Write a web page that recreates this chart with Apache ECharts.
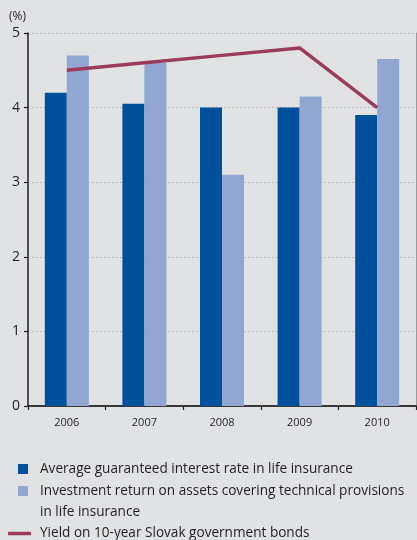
<!DOCTYPE html>
<html>
<head>
<meta charset="utf-8">
<script src="https://cdn.jsdelivr.net/npm/echarts@6/dist/echarts.min.js"></script>
<style>
html,body{margin:0;padding:0;background:#e1e2e4;}
#c{width:417px;height:540px;}
</style>
</head>
<body>
<div id="c"></div>
<script>
const categories = ['2006', '2007', '2008', '2009', '2010'];
const guaranteedRate = [4.2, 4.05, 4.0, 4.0, 3.9];
const investmentReturn = [4.7, 4.6, 3.1, 4.15, 4.65];
const bondYield = [4.5, 4.6, 4.7, 4.8, 4.0];
const yTicks = [0, 1, 2, 3, 4, 5];

const nameA = 'Average guaranteed interest rate in life insurance';
const nameB = 'Investment return on assets covering technical provisions in life insurance';
const nameC = 'Yield on 10-year Slovak government bonds';

const FONT = '"Open Sans", "Liberation Sans", Arial, sans-serif';
const TXT = '#231f20';
const LEG_FS = 13.6;

const chart = echarts.init(document.getElementById('c'), null, {renderer: 'canvas'});
chart.setOption({
  backgroundColor: '#e1e2e4',
  animation: false,
  textStyle: {fontFamily: FONT},
  title: {
    text: '(%)', left: 9, top: 11, padding: 0,
    textStyle: {fontSize: 12, fontWeight: 'normal', color: TXT, fontFamily: FONT}
  },
  grid: {left: 28, right: 1, top: 33, bottom: 134, containLabel: false},
  legend: [
    {
      left: 18, top: 458.5, padding: 0, itemWidth: 10, itemHeight: 10, icon: 'rect',
      selectedMode: false,
      data: [{name: nameA}],
      textStyle: {fontSize: LEG_FS, color: TXT, lineHeight: 21, padding: [0, 0, 0, 7], fontFamily: FONT}
    },
    {
      left: 18, top: 480.5, padding: 0, itemWidth: 10, itemHeight: 31,
      icon: 'path://M0,0H10V10H0Z M0,31H10V31Z',
      selectedMode: false,
      data: [{name: nameB}],
      formatter: function () {
        return 'Investment return on assets covering technical provisions\nin life insurance';
      },
      textStyle: {fontSize: LEG_FS, color: TXT, lineHeight: 21, padding: [0, 0, 0, 7], fontFamily: FONT}
    },
    {
      left: 8, top: 523, padding: 0, itemWidth: 23, itemHeight: 3.5, icon: 'roundRect',
      selectedMode: false,
      data: [{name: nameC}],
      textStyle: {fontSize: LEG_FS, color: TXT, lineHeight: 21, padding: [0, 0, 0, 4], fontFamily: FONT}
    }
  ],
  xAxis: [
    {
      type: 'category', data: categories, boundaryGap: true,
      axisLine: {show: true, lineStyle: {color: '#231f20', width: 1.5}},
      axisTick: {show: true, length: 4, alignWithLabel: false, lineStyle: {color: '#231f20', width: 1.2}},
      axisLabel: {fontSize: 11, color: TXT, margin: 11, fontFamily: FONT},
      splitLine: {show: false}
    },
    {
      type: 'category', data: categories, position: 'top',
      axisLine: {show: true, lineStyle: {color: '#333', width: 1.5}},
      axisTick: {show: false}, axisLabel: {show: false}, splitLine: {show: false}
    }
  ],
  yAxis: [
    {
      type: 'value', min: yTicks[0], max: yTicks[yTicks.length - 1], interval: 1,
      axisLine: {show: true, lineStyle: {color: '#231f20', width: 1.5}},
      axisTick: {show: true, length: 4, lineStyle: {color: '#231f20', width: 1.2}},
      axisLabel: {fontSize: 14, color: TXT, margin: 8, fontFamily: FONT},
      splitLine: {show: true, lineStyle: {color: '#adadad', width: 1, type: [1.5, 2.5]}}
    },
    {
      type: 'value', min: yTicks[0], max: yTicks[yTicks.length - 1], interval: 1, position: 'right',
      axisLine: {show: true, lineStyle: {color: '#9a9a9a', width: 1}},
      axisTick: {show: false}, axisLabel: {show: false}, splitLine: {show: false}
    }
  ],
  series: [
    {
      name: nameA, type: 'bar', data: guaranteedRate, barWidth: 22, barGap: '0%',
      itemStyle: {color: '#00509b'}
    },
    {
      name: nameB, type: 'bar', data: investmentReturn, barWidth: 22, barGap: '0%',
      itemStyle: {color: '#91a6d0'}
    },
    {
      name: nameC, type: 'line', data: bondYield, symbol: 'none', z: 5,
      lineStyle: {color: '#9b3d58', width: 3.5},
      itemStyle: {color: '#9b3d58'}
    }
  ]
});
</script>
</body>
</html>
